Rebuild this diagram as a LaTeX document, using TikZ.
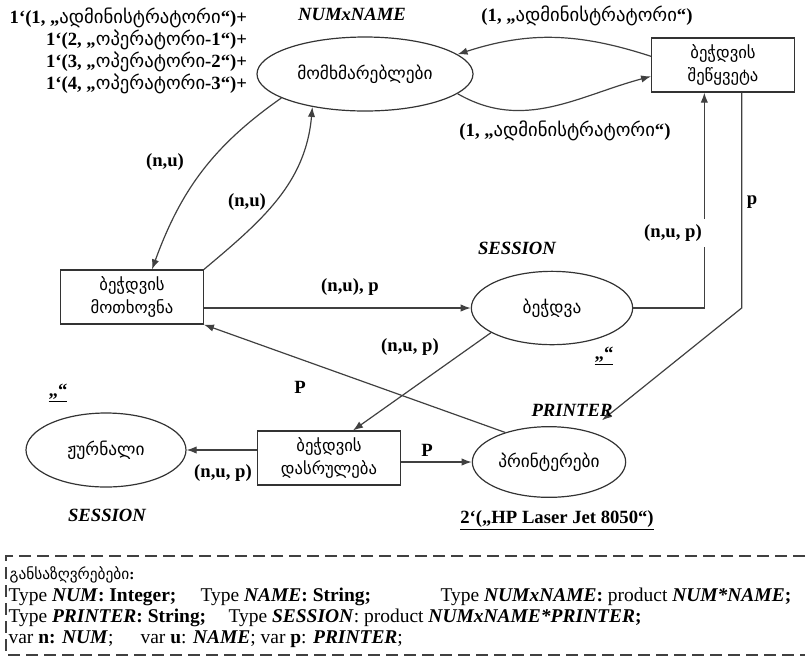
\documentclass[tikz,border=0pt]{standalone}
\usepackage{fontspec}
\setmainfont{Liberation Serif}
\newfontfamily\geo{DejaVu Sans}
\usetikzlibrary{arrows.meta,shapes.geometric}
\newcommand{\ka}[1]{{\geo\mdseries #1}}

\begin{document}
\begin{tikzpicture}[x=0.75pt,y=-0.75pt,line width=0.9pt,
  place/.style={ellipse,draw=black!80,inner sep=0pt,font=\fontsize{13}{15}\selectfont\geo},
  trans/.style={draw=black!80,inner sep=0pt,align=center,minimum width=107pt,minimum height=40.5pt,font=\fontsize{12.5}{17}\selectfont\geo},
  arc/.style={draw=black!75,-{Latex[length=7.5pt,width=5.5pt]}},
  lbl/.style={font=\fontsize{14}{16}\selectfont\bfseries},
  sort/.style={font=\fontsize{14}{16}\selectfont\bfseries\itshape},
  defn/.style={anchor=base west,inner sep=0pt,font=\fontsize{14.6}{16}\selectfont}]
  \useasboundingbox (0,0) rectangle (810,662);

  \node[place,minimum width=162pt,minimum height=55.5pt] (users) at (365,74) {მომხმარებლები};
  \node[place,minimum width=121pt,minimum height=55pt] (session) at (552,308) {ბეჭდვა};
  \node[place,minimum width=115pt,minimum height=53pt] (printers) at (549,462) {პრინტერები};
  \node[place,minimum width=120pt,minimum height=55.5pt] (journal) at (106,450) {ჟურნალი};
  \node[trans] (stop) at (723,65) {ბეჭდვის\\შეწყვეტა};
  \node[trans] (request) at (132,297) {ბეჭდვის\\მოთხოვნა};
  \node[trans] (done) at (329,458) {ბეჭდვის\\დასრულება};

  \draw[arc] ([yshift=6.5pt]stop.west) to[out=162,in=18] (users.12);
  \draw[arc] (users.-12) to[out=-30,in=195] ([yshift=-8.5pt]stop.west);
  \draw[arc] (users.196) to[out=215,in=70] ([xshift=15pt]request.north);
  \draw[arc] (request.north east) to[out=40,in=-95] (users.212);
  \draw[arc] (request.east |- session.west) -- (session.west);
  \draw[arc] (session.east) -| ([xshift=-14pt]stop.south);
  \draw[arc,shorten >=13pt] ([xshift=14pt]stop.south) -- ([xshift=14pt]stop.south |- session.east) -- (printers.38);
  \draw[arc] (session.202) -- ([xshift=18pt]done.north);
  \draw[arc] (printers.146) -- (request.south east);
  \draw[arc] (done.east |- printers.west) -- (printers.west);
  \draw[arc] (done.west |- journal.east) -- (journal.east);

  \node[lbl,align=right,anchor=north east,font=\fontsize{14}{16.5}\selectfont\bfseries] (init) at (252,3)
    {1`(1, „\ka{ადმინისტრატორი}“)+\\1`(2, „\ka{ოპერატორი}-1“)+\\1`(3, „\ka{ოპერატორი}-2“)+\\1`(4, „\ka{ოპერატორი}-3“)+};
  \node[sort] (tusers) at (352,14) {NUMxNAME};
  \node[sort] (tsession) at (517,248) {SESSION};
  \node[sort] (tprinters) at (572,410) {PRINTER};
  \node[sort] (tjournal) at (107,515) {SESSION};
  \node[lbl] (mjournal) at (58,393) {\underline{„“}};
  \node[lbl] (msession) at (604,356) {\underline{„“}};
  \node[lbl] (mprinters) at (557,520) {\underline{2`(„HP Laser Jet 8050“)}};

  \node[lbl] (ladmin) at (587,16) {(1, „\ka{ადმინისტრატორი}“)};
  \node[lbl] (lback) at (565,131) {(1, „\ka{ადმინისტრატორი}“)};
  \node[lbl] (lask) at (165,162) {(n,u)};
  \node[lbl] (lret) at (247,202) {(n,u)};
  \node[lbl] (lsend) at (350,287) {(n,u), p};
  \node[lbl,fill=white,inner sep=4pt] (lstop) at (673,233) {(n,u, p)};
  \node[lbl] (lfree) at (752,202) {p};
  \node[lbl] (lend) at (410,347) {(n,u, p)};
  \node[lbl] (lnext) at (300,387) {P};
  \node[lbl] (lput) at (427,450) {P};
  \node[lbl] (llog) at (223,473) {(n,u, p)};

  \draw[black!75,dash pattern=on 9pt off 4.5pt] (805,556) -- (6,556) -- (6,655) -- (805,655);
  \node[defn,font=\fontsize{11.5}{12}\selectfont\bfseries] (dhead) at (9,579) {\ka{განსაზღვრებები}:};
  \node[defn] (dnum) at (8,601) {Type \textbf{\textit{NUM}: Integer;}};
  \node[defn] (dname) at (200,601) {Type \textbf{\textit{NAME}: String;}};
  \node[defn] (dpair) at (440,601) {Type \textbf{\textit{NUMxNAME}:} product \textbf{\textit{NUM*NAME};}};
  \node[defn] (dprinter) at (8,622) {Type \textbf{\textit{PRINTER}: String;}};
  \node[defn] (dsession) at (228,622) {Type \textbf{\textit{SESSION}}: product \textbf{\textit{NUMxNAME*PRINTER};}};
  \node[defn] (dvarn) at (8,643) {var \textbf{n: \textit{NUM}};};
  \node[defn] (dvaru) at (140,643) {var \textbf{u}: \textbf{\textit{NAME}}; var \textbf{p}: \textbf{\textit{PRINTER}};};
\end{tikzpicture}
\end{document}
